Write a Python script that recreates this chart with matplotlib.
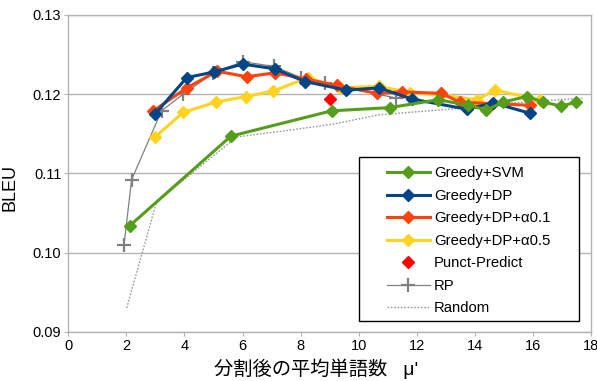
import numpy as np
import matplotlib; matplotlib.use("Agg")
import matplotlib.pyplot as plt
from matplotlib.patches import Rectangle

plt.rcParams["font.family"] = ["Liberation Sans", "Noto Sans CJK JP", "DejaVu Sans"]

# series: average words per segment vs BLEU
svm_x = [2.12, 5.60, 9.07, 11.07, 12.74, 13.77, 14.40, 14.97, 15.78, 16.35, 16.98, 17.50]
svm_y = [0.1034, 0.1147, 0.1179, 0.1183, 0.1193, 0.1186, 0.1180, 0.1190, 0.1197, 0.1190, 0.1185, 0.1190]
dp_x = [2.99, 4.08, 5.02, 6.00, 7.12, 8.15, 9.58, 10.69, 11.82, 13.72, 14.63, 15.89]
dp_y = [0.1175, 0.1221, 0.1228, 0.1238, 0.1232, 0.1216, 0.1205, 0.1208, 0.1194, 0.1181, 0.1189, 0.1176]
a01_x = [2.93, 4.08, 5.13, 6.14, 7.12, 8.20, 9.24, 10.62, 11.48, 12.85, 13.48, 14.60, 15.90]
a01_y = [0.1179, 0.1208, 0.1229, 0.1222, 0.1227, 0.1219, 0.1211, 0.1201, 0.1203, 0.1201, 0.1190, 0.1188, 0.1186]
a05_x = [2.99, 3.96, 5.08, 6.12, 7.06, 8.26, 9.35, 10.70, 11.76, 12.85, 14.06, 14.69, 16.24]
a05_y = [0.1146, 0.1177, 0.1190, 0.1197, 0.1204, 0.1221, 0.1208, 0.1210, 0.1202, 0.1199, 0.1193, 0.1205, 0.1193]
punct_x = [9.00]
punct_y = [0.1194]
rp_x = [1.92, 2.18, 3.21, 3.96, 5.00, 6.00, 7.10, 8.00, 8.84, 11.30]
rp_y = [0.1010, 0.1092, 0.1179, 0.1200, 0.1227, 0.1241, 0.1235, 0.1221, 0.1214, 0.1195]
rand_x = [2.01, 3.04, 5.80, 7.30, 9.10, 10.70, 13.80, 15.30, 17.30, 17.70]
rand_y = [0.0930, 0.1064, 0.1146, 0.1153, 0.1162, 0.1174, 0.1183, 0.1189, 0.1194, 0.1195]

fig = plt.figure(figsize=(5.97, 3.81), dpi=100)
ax = fig.add_axes([68.3/597, 1-331.7/381, 522.7/597, 316.7/381])

grid_c = "#b3b3b3"
kw = dict(marker="D", ms=6, lw=2.2)
ax.plot(rand_x, rand_y, color="#999999", lw=1.0, ls=(0, (1.2, 1.2)), label="Random", zorder=2)
ax.plot(rp_x, rp_y, color="#808080", lw=0.9, marker="+", ms=10, mew=1.6, label="RP", zorder=2.1)
ax.plot(punct_x, punct_y, color="#ff0000", ls="none", marker="D", ms=6, label="Punct-Predict", zorder=2.2)
ax.plot(a05_x, a05_y, color="#ffd320", label="Greedy+DP+α0.5", zorder=2.3, **kw)
ax.plot(a01_x, a01_y, color="#ff420e", label="Greedy+DP+α0.1", zorder=2.4, **kw)
ax.plot(dp_x, dp_y, color="#004586", label="Greedy+DP", zorder=2.5, **kw)
ax.plot(svm_x, svm_y, color="#579d1c", label="Greedy+SVM", zorder=2.6, **kw)

ax.set_xlim(0, 18); ax.set_ylim(0.09, 0.13)
ax.set_xticks(np.arange(0, 19, 2))
ax.set_yticks([0.09, 0.10, 0.11, 0.12, 0.13])
ax.set_yticklabels(["0.09", "0.10", "0.11", "0.12", "0.13"])
ax.yaxis.grid(True, color=grid_c, lw=1.0)
ax.set_axisbelow(True)
for s in ax.spines.values():
    s.set_color(grid_c); s.set_linewidth(1.0)
ax.tick_params(direction="out", length=3, color=grid_c, labelsize=10.5, pad=2)

ax.set_ylabel("BLEU", fontsize=13)
ax.yaxis.set_label_coords(-0.096, 0.454)
ax.set_xlabel("分割後の平均単語数   μ'", fontsize=13.9, labelpad=4)
ax.xaxis.label.set_x(0.474)

# legend box with wide side margins
ax.add_patch(Rectangle((0.556, 0.034), 0.421, 0.518, transform=ax.transAxes,
                       facecolor="white", edgecolor="black", lw=1.0, zorder=5))
h, l = ax.get_legend_handles_labels()
order = ["Greedy+SVM", "Greedy+DP", "Greedy+DP+α0.1", "Greedy+DP+α0.5",
         "Punct-Predict", "RP", "Random"]
hd = dict(zip(l, h))
leg = ax.legend([hd[k] for k in order], order, loc="upper left",
                bbox_to_anchor=(0.609, 0.5225), frameon=False, fontsize=10.7,
                borderpad=0, borderaxespad=0, handlelength=2.9, handletextpad=0.3,
                labelspacing=0.575)
leg.set_zorder(6)

fig.savefig("out.png", dpi=100)
